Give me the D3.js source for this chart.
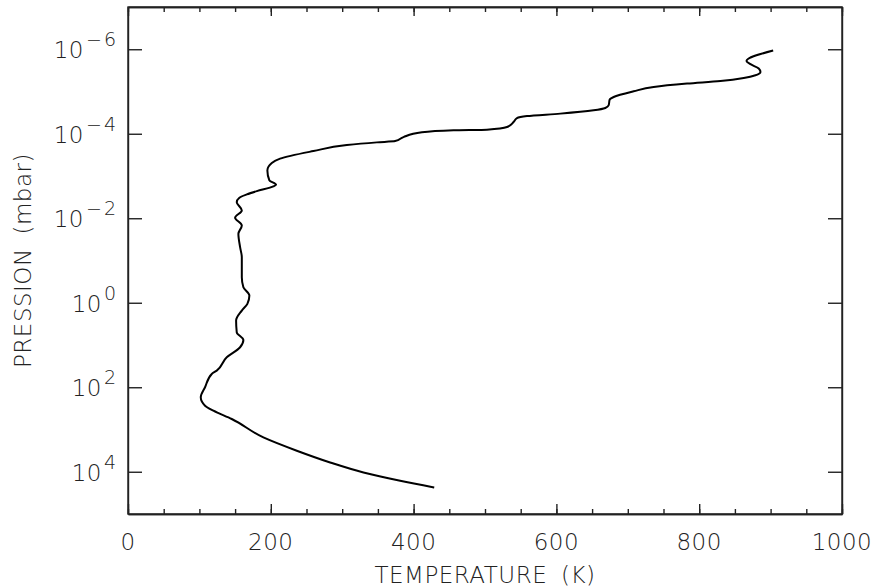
<!DOCTYPE html>
<html>
<head>
<script src="https://d3js.org/d3.v7.min.js"></script>
<style>
  body { margin: 0; background: white; }
  text { font-family: "DejaVu Sans ExtraLight", "DejaVu Sans", sans-serif; font-weight: 200; fill: #222; }
  .axis path, .axis line { stroke: #222; stroke-width: 1.4px; }
  .axis text { display: none; }
  .profile { fill: none; stroke: black; stroke-width: 2px; stroke-linejoin: round; }
</style>
</head>
<body>
<script>
// temperature profile (top of atmosphere -> deep)
var temperature = [903.6, 866.2, 871.8, 883.4, 885.8, 878.8, 862.4, 829.7, 783.0, 736.2,
  708.2, 680.2, 674.6, 673.2, 668.5, 652.1, 605.5, 558.8, 544.8, 540.0,
  530.8, 502.7, 455.9, 411.6, 385.8, 374.2, 348.6, 306.5, 259.7, 213.0,
  201.4, 195.2, 198.0, 207.4, 203.6, 180.4, 166.4, 156.0, 152.3, 159.4,
  150.0, 159.4, 154.6, 157.0, 159.4, 159.4, 161.6, 170.0, 167.2, 159.4,
  151.4, 152.3, 161.6, 157.0, 138.3, 124.3, 117.3, 107.9, 101.9, 107.9,
  119.6, 145.3, 189.6, 236.4, 283.1, 329.8, 381.2, 428.9]
var pressure = [1.07e-6, 1.9e-6, 2.26e-6, 2.86e-6, 3.45e-6, 4.13e-6, 4.79e-6, 5.64e-6, 6.5e-6, 7.8e-6,
  9.9e-6, 1.35e-5, 1.56e-5, 2.12e-5, 2.46e-5, 2.79e-5, 3.34e-5, 3.81e-5, 4.25e-5, 5.28e-5,
  6.94e-5, 8.0e-5, 8.3e-5, 9.26e-5, 1.2e-4, 1.49e-4, 1.6e-4, 1.85e-4, 2.57e-4, 3.89e-4,
  4.94e-4, 7.36e-4, 1.27e-3, 1.6e-3, 1.76e-3, 2.28e-3, 2.73e-3, 3.27e-3, 4.16e-3, 6.53e-3,
  9.7e-3, 1.48e-2, 2.33e-2, 4.84e-2, 8.36e-2, 0.249, 0.43, 0.675, 1.06, 1.53,
  2.64, 5.0, 7.57, 11.3, 19.5, 40.4, 48.4, 100, 173, 273,
  359, 564, 1538, 3177, 6026, 10400, 16330, 23550]

var xMajor = [0, 200, 400, 600, 800, 1000]
var xMinor = d3.range(0, 1001, 50)
var yExponents = [-6, -4, -2, 0, 2, 4]

var width = 880, height = 588
var pLeft = 128, pRight = 842, pTop = 7, pBottom = 514

var svg = d3.select("body").append("svg")
  .attr("width", width)
  .attr("height", height)

var x = d3.scaleLinear().domain([0, 1000]).range([pLeft, pRight])
var y = d3.scaleLog().domain([1e-7, 1e5]).range([pTop, pBottom])

// frame
svg.append("rect")
  .attr("x", pLeft).attr("y", pTop)
  .attr("width", pRight - pLeft).attr("height", pBottom - pTop)
  .attr("fill", "none").attr("stroke", "#222").attr("stroke-width", 1.4)

// x ticks, inward, bottom and top
svg.append("g").attr("class", "axis").attr("transform", `translate(0,${pBottom})`)
  .call(d3.axisBottom(x).tickValues(xMinor).tickSize(-5).tickSizeOuter(0))
svg.append("g").attr("class", "axis").attr("transform", `translate(0,${pBottom})`)
  .call(d3.axisBottom(x).tickValues(xMajor).tickSize(-10).tickSizeOuter(0))
svg.append("g").attr("class", "axis").attr("transform", `translate(0,${pTop})`)
  .call(d3.axisTop(x).tickValues(xMinor).tickSize(-5).tickSizeOuter(0))
svg.append("g").attr("class", "axis").attr("transform", `translate(0,${pTop})`)
  .call(d3.axisTop(x).tickValues(xMajor).tickSize(-9).tickSizeOuter(0))

// y ticks, inward, left and right
var yTicks = yExponents.map(e => Math.pow(10, e))
svg.append("g").attr("class", "axis").attr("transform", `translate(${pLeft},0)`)
  .call(d3.axisLeft(y).tickValues(yTicks).tickSize(-14).tickSizeOuter(0))
svg.append("g").attr("class", "axis").attr("transform", `translate(${pRight},0)`)
  .call(d3.axisRight(y).tickValues(yTicks).tickSize(-14).tickSizeOuter(0))

// x tick labels
svg.selectAll("text.xlab")
  .data(xMajor)
  .enter().append("text")
  .attr("class", "xlab")
  .attr("x", d => x(d))
  .attr("y", 550)
  .attr("text-anchor", "middle")
  .style("font-size", "23px")
  .style("letter-spacing", "0.5px")
  .text(d => d)

// y tick labels 10^n
var ylab = svg.selectAll("text.ylab")
  .data(yExponents)
  .enter().append("text")
  .attr("class", "ylab")
  .attr("x", 118)
  .attr("y", d => y(Math.pow(10, d)) + 9)
  .attr("text-anchor", "end")
ylab.append("tspan").style("font-size", "23px").style("letter-spacing", "0.5px").text("10")
ylab.append("tspan").style("font-size", "19px").attr("dy", -12).attr("dx", 2)
  .style("letter-spacing", "2px")
  .text(d => d < 0 ? "\u2212" + (-d) : d)

// axis titles
svg.append("text")
  .attr("x", (pLeft + pRight) / 2)
  .attr("y", 583)
  .attr("text-anchor", "middle")
  .style("font-size", "23px")
  .style("letter-spacing", "0.5px")
  .style("word-spacing", "6px")
  .text("TEMPERATURE (K)")

svg.append("text")
  .attr("transform", `translate(31,${(pTop + pBottom) / 2}) rotate(-90)`)
  .attr("text-anchor", "middle")
  .style("font-size", "23px")
  .style("letter-spacing", "0.5px")
  .style("word-spacing", "6px")
  .text("PRESSION (mbar)")

// profile
var line = d3.line()
  .x((d, i) => x(temperature[i]))
  .y((d, i) => y(pressure[i]))
  .curve(d3.curveMonotoneY)

svg.append("path")
  .datum(pressure)
  .attr("class", "profile")
  .attr("d", line)
</script>
</body>
</html>
